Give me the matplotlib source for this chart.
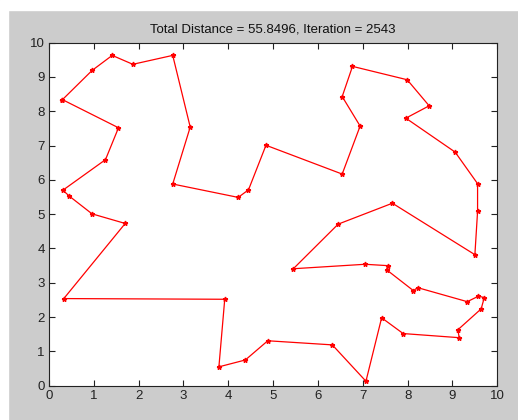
import numpy as np
import matplotlib
matplotlib.use('Agg')
import matplotlib.pyplot as plt
from matplotlib.patches import Rectangle

# tour order, closed back to the first city
tour_x = [0.30, 0.96, 1.41, 1.87, 2.76, 3.15, 2.76, 4.22, 4.45, 4.84,
          6.54, 6.94, 6.54, 6.77, 7.99, 8.48, 7.96, 9.06, 9.56, 9.56,
          9.50, 7.66, 6.45, 5.45, 7.05, 7.56, 7.53, 8.13, 8.22, 9.33,
          9.58, 9.71, 9.64, 9.12, 9.15, 7.90, 7.42, 7.07, 6.32, 4.88,
          4.38, 3.79, 3.92, 0.33, 1.70, 0.96, 0.45, 0.31, 1.26, 1.55]
tour_y = [8.34, 9.19, 9.63, 9.37, 9.63, 7.54, 5.88, 5.49, 5.71, 7.01,
          6.17, 7.57, 8.43, 9.31, 8.92, 8.16, 7.80, 6.81, 5.89, 5.08,
          3.82, 5.32, 4.71, 3.41, 3.54, 3.50, 3.38, 2.77, 2.86, 2.45,
          2.61, 2.57, 2.24, 1.63, 1.40, 1.52, 1.98, 0.13, 1.19, 1.31,
          0.75, 0.55, 2.52, 2.54, 4.73, 5.01, 5.53, 5.70, 6.59, 7.52]
title = "Total Distance = 55.8496, Iteration = 2543"

plt.rcParams['font.family'] = ['Liberation Sans', 'DejaVu Sans']

W, H = 518, 420
fig = plt.figure(figsize=(W/100, H/100), dpi=100, facecolor='#cccccc')
# white strips at the top and left of the screenshot
fig.patches.append(Rectangle((0, 1 - 10/H), 1, 10/H, transform=fig.transFigure,
                             color='white', zorder=0))
fig.patches.append(Rectangle((0, 0), 8/W, 1, transform=fig.transFigure,
                             color='white', zorder=0))

ax = fig.add_axes([49/W, (H-385.7)/H, (497.3-49)/W, (385.7-42.7)/H])
xs = tour_x + [tour_x[0]]
ys = tour_y + [tour_y[0]]
ax.plot(xs, ys, color='red', lw=0.9, marker='*', ms=3.5, mec='red', mfc='red')

ax.set_xlim(0, 10)
ax.set_ylim(0, 10)
ax.set_xticks(range(0, 11))
ax.set_yticks(range(0, 11))
ax.tick_params(direction='in', top=True, right=True, labelsize=9.5,
               length=4, width=0.8, colors='#222222', pad=3)
for s in ax.spines.values():
    s.set_linewidth(0.8)
    s.set_color('#222222')
ax.set_title(title, fontsize=9.5, color='#111111', pad=7)

fig.savefig('out.png', dpi=100, facecolor=fig.get_facecolor())
